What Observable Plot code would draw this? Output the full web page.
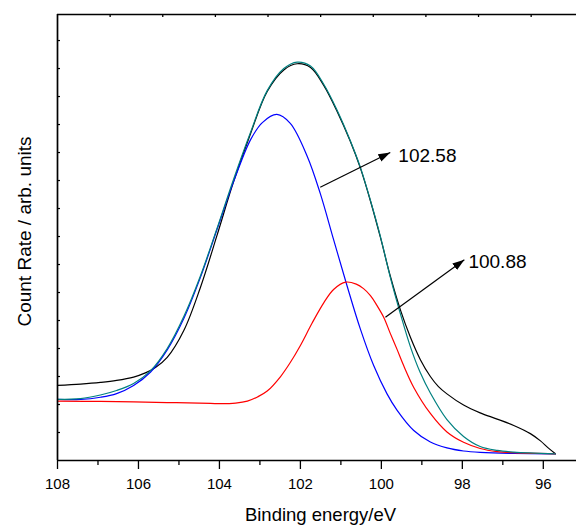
<!DOCTYPE html>
<html><head><meta charset="utf-8">
<script src="https://cdn.jsdelivr.net/npm/d3@7"></script>
<script src="https://cdn.jsdelivr.net/npm/@observablehq/plot@0.6"></script>
<style>html,body{margin:0;padding:0;background:#fff}</style>
</head><body><div id="chart"></div>
<script>
// Measured spectrum (black)
const measuredE = [108.00,107.43,106.94,106.54,106.12,105.83,105.58,105.29,104.88,104.47,104.06,103.65,103.23,102.82,102.41,102.08,101.75,101.42,101.09,100.77,100.52,100.27,100.02,99.78,99.53,99.28,99.04,98.79,98.59,98.38,97.97,97.56,97.14,96.73,96.32,96.07,95.88,95.70];
const measuredI = [2.68,2.73,2.79,2.86,2.98,3.13,3.32,3.68,4.64,6.18,8.04,9.96,11.68,13.18,13.95,14.17,14.04,13.39,12.46,11.41,10.45,9.27,7.95,6.59,5.38,4.39,3.61,3.00,2.64,2.38,1.98,1.70,1.48,1.25,0.96,0.70,0.45,0.24];
// Fitted envelope (teal)
const envelopeE = [108.00,107.43,106.94,106.54,106.12,105.70,105.29,104.88,104.47,104.06,103.65,103.23,102.82,102.41,102.08,101.75,101.42,101.09,100.77,100.52,100.27,100.02,99.78,99.53,99.28,99.04,98.79,98.38,97.97,97.56,97.14,96.73,95.70];
const envelopeI = [2.18,2.21,2.34,2.50,2.75,3.21,4.00,5.14,6.59,8.29,10.05,11.73,13.21,14.00,14.23,14.09,13.43,12.50,11.43,10.48,9.29,7.98,6.55,5.24,4.05,3.14,2.41,1.46,0.86,0.50,0.36,0.30,0.24];
// Component peak at 102.58 eV (blue)
const peak1E = [108.00,107.43,106.94,106.54,106.12,105.70,105.29,104.88,104.47,104.06,103.65,103.23,102.94,102.58,102.25,101.83,101.51,101.18,100.85,100.52,100.19,99.86,99.61,99.20,98.79,98.38,97.97,97.56,96.73,95.70];
const peak1I = [2.18,2.18,2.26,2.39,2.68,3.16,3.95,5.07,6.54,8.25,9.96,11.46,12.07,12.36,12.04,10.86,9.54,7.89,6.25,4.70,3.39,2.38,1.79,1.07,0.66,0.45,0.34,0.29,0.25,0.24];
// Component peak at 100.88 eV (red)
const peak2E = [108.00,106.94,105.29,104.22,103.98,103.60,103.31,103.06,102.82,102.49,102.25,102.00,101.71,101.42,101.18,100.88,100.62,100.44,100.27,100.11,99.94,99.78,99.61,99.45,99.20,98.79,98.38,97.97,97.56,97.14,96.73,95.70];
const peak2I = [2.12,2.11,2.07,2.04,2.03,2.05,2.12,2.27,2.48,3.00,3.50,4.11,4.91,5.64,6.11,6.37,6.30,6.14,5.89,5.54,5.11,4.54,3.96,3.39,2.61,1.68,1.02,0.65,0.43,0.32,0.28,0.24];

// Annotations
const peakLabels = ["102.58", "100.88"];
const labelE = [99.58, 97.85];
const labelI = [10.88, 7.09];
const arrowFromE = [101.51, 99.90];
const arrowFromI = [9.76, 5.12];
const arrowToE = [99.78, 97.95];
const arrowToI = [11.00, 7.17];

// Ticks
const majorTicks = [108, 106, 104, 102, 100, 98, 96];
const minorTicks = [107, 105, 103, 101, 99, 97];
const yTicks = [1,2,3,4,5,6,7,8,9,10,11,12,13,14,15];
const topTicks = [106.7, 105.4, 104.1, 102.8, 101.5, 100.2, 98.9, 97.6, 96.3];

const xLabel = "Binding energy/eV";
const yLabel = "Count Rate / arb. units";

const toRows = (E, I) => E.map((e, i) => ({E: e, I: I[i]}));
const measured = toRows(measuredE, measuredI);
const envelope = toRows(envelopeE, envelopeI);
const peak1 = toRows(peak1E, peak1I);
const peak2 = toRows(peak2E, peak2I);
const notes = peakLabels.map((t, i) => ({t, x: labelE[i], y: labelI[i], x1: arrowFromE[i], y1: arrowFromI[i], x2: arrowToE[i], y2: arrowToI[i]}));

const Y_MAX = 15.93;
const FONT = "Liberation Sans, Arial, Helvetica, sans-serif";

function filledArrow(color) {
  const ns = "http://www.w3.org/2000/svg";
  const m = document.createElementNS(ns, "marker");
  m.setAttribute("viewBox", "-12 -4.5 12 9");
  m.setAttribute("markerWidth", 12);
  m.setAttribute("markerHeight", 9);
  m.setAttribute("markerUnits", "userSpaceOnUse");
  m.setAttribute("orient", "auto");
  m.setAttribute("refX", 0);
  m.setAttribute("refY", 0);
  const p = document.createElementNS(ns, "path");
  p.setAttribute("d", "M-12,-4L0,0L-12,4Z");
  p.setAttribute("fill", color);
  p.setAttribute("stroke", "none");
  m.appendChild(p);
  return m;
}

const lineOpts = {x: "E", y: "I", strokeWidth: 1.2, curve: "catmull-rom"};

const chart = Plot.plot({
  width: 576,
  height: 527,
  marginLeft: 57,
  marginRight: 0,
  marginTop: 14,
  marginBottom: 67,
  style: {fontFamily: FONT, fontSize: "15px", background: "white", color: "black"},
  x: {domain: [108, 95.18]},
  y: {domain: [0, Y_MAX]},
  marks: [
    Plot.line(measured, {...lineOpts, stroke: "#000000"}),
    Plot.line(peak1, {...lineOpts, stroke: "#0000ff"}),
    Plot.line(peak2, {...lineOpts, stroke: "#ff0000"}),
    Plot.line(envelope, {...lineOpts, stroke: "#008080"}),
    Plot.link(notes, {x1: "x1", y1: "y1", x2: "x2", y2: "y2", stroke: "#000", strokeWidth: 1.2, markerEnd: filledArrow}),
    Plot.text(notes, {x: "x", y: "y", text: "t", textAnchor: "start", lineAnchor: "middle", fontSize: 19, fill: "#000"}),
    Plot.ruleX([108], {stroke: "#000", strokeWidth: 1.7}),
    Plot.ruleY([0], {stroke: "#000", strokeWidth: 1.7}),
    Plot.ruleY([Y_MAX], {stroke: "#000", strokeWidth: 1.7}),
    Plot.axisX({ticks: majorTicks, tickSize: 9, tickPadding: 9, tickFormat: d3.format("d"), fontSize: 15, label: null, strokeWidth: 1.3}),
    Plot.axisX({ticks: minorTicks, tickSize: 5, tickFormat: () => "", label: null, strokeWidth: 1.3}),
    Plot.axisX({anchor: "top", ticks: topTicks, tickSize: -2, tickFormat: () => "", label: null, strokeWidth: 1.3}),
    Plot.axisY({ticks: yTicks, tickSize: -3, tickFormat: () => "", label: null, strokeWidth: 1.2}),
    Plot.text([xLabel], {frameAnchor: "bottom", dx: 3.5, dy: 54.5, textAnchor: "middle", lineAnchor: "middle", fontSize: 18.5, fill: "#000"}),
    Plot.text([yLabel], {frameAnchor: "left", dx: -33, dy: -6, rotate: -90, textAnchor: "middle", lineAnchor: "middle", fontSize: 19, fill: "#000"})
  ]
});
document.getElementById("chart").appendChild(chart);
</script>
</body></html>
